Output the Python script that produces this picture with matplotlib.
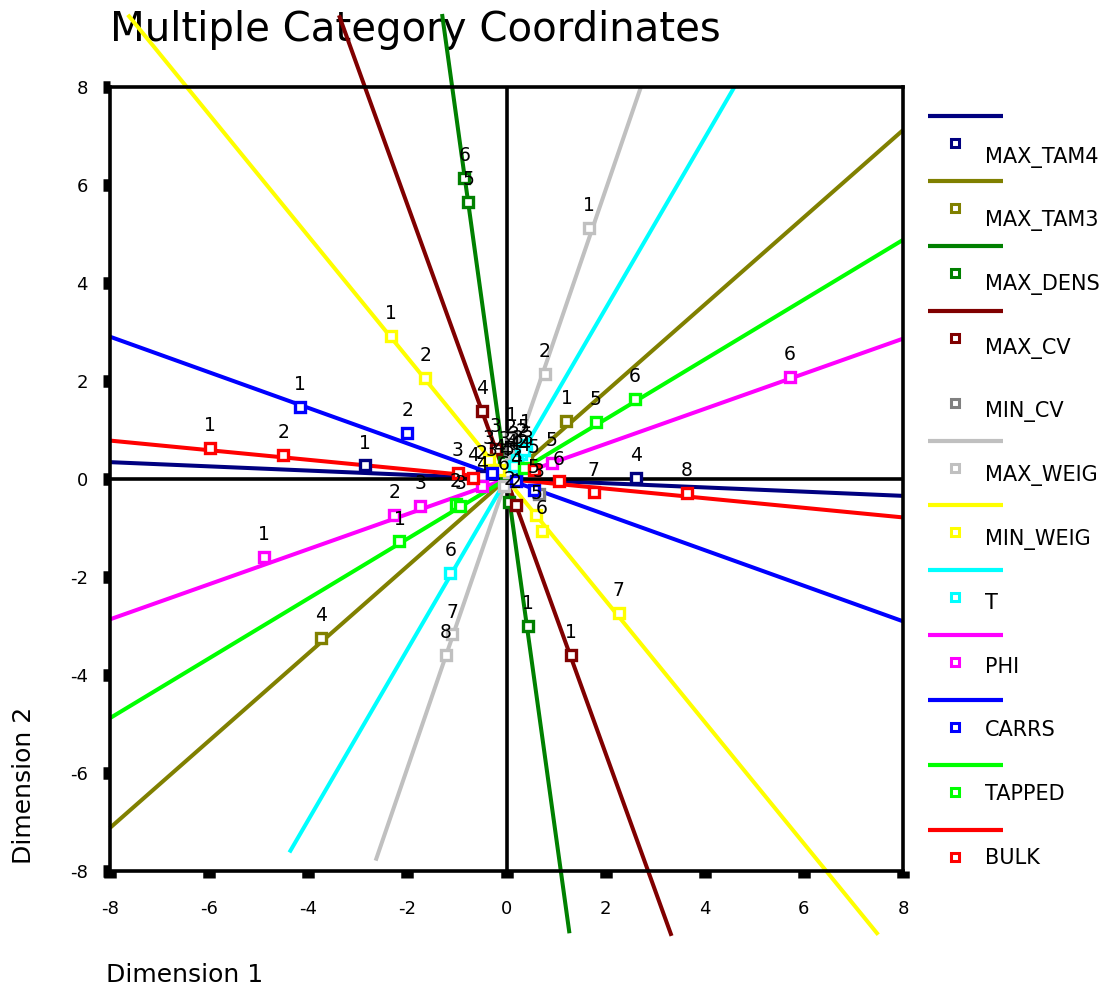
import matplotlib
matplotlib.use('Agg')
from matplotlib import pyplot as plt

plt.rcParams['axes.unicode_minus'] = False
plt.rcParams['font.family'] = 'DejaVu Sans'

# category quantifications (dimension 1, dimension 2); categories are numbered 1..n
max_tam4 = [(-2.85, 0.28), (-0.5, 0.06), (0.2, 0.0), (2.62, 0.02)]
max_tam3 = [(1.21, 1.18), (0.32, 0.30), (0.42, 0.38), (-3.74, -3.24)]
max_dens = [(0.44, -3.0), (0.06, -0.46), (-0.05, 0.35), (-0.02, 0.12), (-0.77, 5.65), (-0.85, 6.14)]
max_cv = [(1.31, -3.59), (0.19, -0.53), (-0.22, 0.62), (-0.5, 1.39)]
min_cv = [(0.1, 0.85), (0.08, 0.6), (0.65, -0.3)]
max_weig = [(1.66, 5.12), (0.77, 2.14), (0.15, 0.45), (0.1, 0.3), (0.05, 0.15), (-0.05, -0.15),
            (-1.1, -3.17), (-1.22, -3.59)]
min_weig = [(-2.34, 2.92), (-1.64, 2.06), (-0.36, 0.38), (-0.15, 0.18), (0.6, -0.74), (0.71, -1.06),
            (2.26, -2.73)]
t_var = [(0.4, 0.7), (0.3, 0.52), (0.22, 0.38), (0.15, 0.26), (0.35, 0.6), (-1.13, -1.92)]
phi = [(-4.89, -1.59), (-2.26, -0.73), (-1.74, -0.55), (-0.5, -0.15), (0.91, 0.33), (5.72, 2.08)]
carrs = [(-4.16, 1.47), (-2.0, 0.94), (-0.3, 0.12), (0.2, -0.05), (0.55, -0.22)]
tapped = [(-2.16, -1.27), (-1.02, -0.5), (-0.93, -0.55), (0.35, 0.22), (1.80, 1.16), (2.59, 1.63)]
bulk = [(-5.98, 0.63), (-4.5, 0.49), (-0.98, 0.12), (-0.68, 0.03), (0.55, 0.18), (1.05, -0.05),
        (1.76, -0.27), (3.64, -0.29)]

variables = ['MAX_TAM4', 'MAX_TAM3', 'MAX_DENS', 'MAX_CV', 'MIN_CV', 'MAX_WEIG',
             'MIN_WEIG', 'T', 'PHI', 'CARRS', 'TAPPED', 'BULK']
coords = [max_tam4, max_tam3, max_dens, max_cv, min_cv, max_weig,
          min_weig, t_var, phi, carrs, tapped, bulk]
colores = ['#000080', '#808000', '#008000', '#800000', '#808080', '#c0c0c0',
           '#ffff00', '#00ffff', '#ff00ff', '#0000ff', '#00ff00', '#ff0000']

# fitted vector through the origin: slope and extent along dimension 1 (MIN_CV has none)
pendientes = [-0.043, 0.89, -7.3, -2.8, None, 2.95, -1.24, 1.74, 0.358, -0.363, 0.61, -0.098]
x_desde = [-8, -8, -1.30, -3.38, None, -2.64, -7.64, -4.38, -8, -8, -8, -8]
x_hasta = [8, 8, 1.27, 3.33, None, 2.71, 7.5, 4.6, 8, 8, 8, 8]

W, H = 1114, 990
fig = plt.figure(figsize=(W / 100, H / 100), dpi=100)
ax = fig.add_axes([110 / W, 1 - 871 / H, 793 / W, 784 / H])

for nombre, pts, color, m, x0, x1 in zip(variables, coords, colores, pendientes, x_desde, x_hasta):
    if m is not None:
        ax.plot([x0, x1], [m * x0, m * x1], color=color, lw=2.9, clip_on=False,
                solid_capstyle='butt', zorder=2)
    xs = [p[0] for p in pts]
    ys = [p[1] for p in pts]
    ax.plot(xs, ys, 's', ms=7, mfc='white', mec=color, mew=2.4, zorder=4)
    for i, (x, y) in enumerate(pts, 1):
        ax.annotate(str(i), (x, y), xytext=(0, 16), textcoords='offset points',
                    ha='center', va='center', fontsize=13.5, zorder=5)

ax.axhline(0, color='black', lw=2.6, zorder=3)
ax.axvline(0, color='black', lw=2.6, zorder=3)

ax.set_xlim(-8, 8)
ax.set_ylim(-8, 8)
ax.set_xticks(range(-8, 9, 2))
ax.set_yticks(range(-8, 9, 2))
for s in ax.spines.values():
    s.set_linewidth(2.6)
ax.tick_params(direction='out', length=5, width=9, labelsize=13)
ax.tick_params(axis='x', pad=16)
ax.tick_params(axis='y', pad=11)

fig.text(110 / W, 1 - 30 / H, 'Multiple Category Coordinates', fontsize=29,
         ha='left', va='center', zorder=-1)
fig.text(106 / W, 1 - 975 / H, 'Dimension 1', fontsize=18, ha='left', va='center')
fig.text(24 / W, 1 - 785 / H, 'Dimension 2', fontsize=18, ha='center', va='center', rotation=90)

# legend column on the right, drawn in pixel units
lg = fig.add_axes([0, 0, 1, 1])
lg.set_xlim(0, W)
lg.set_ylim(H, 0)
lg.axis('off')
for i, (nombre, color, m) in enumerate(zip(variables, colores, pendientes)):
    ym = 143 + i * 64.9
    if m is not None:
        lg.plot([928, 1003], [ym - 27, ym - 27], color=color, lw=3, solid_capstyle='butt')
    lg.plot([955], [ym], 's', ms=5.5, mfc='white', mec=color, mew=2.2)
    lg.text(985, ym + 14 - i * 1.2, nombre, fontsize=15, ha='left', va='center')

fig.savefig('out.png', dpi=100)
